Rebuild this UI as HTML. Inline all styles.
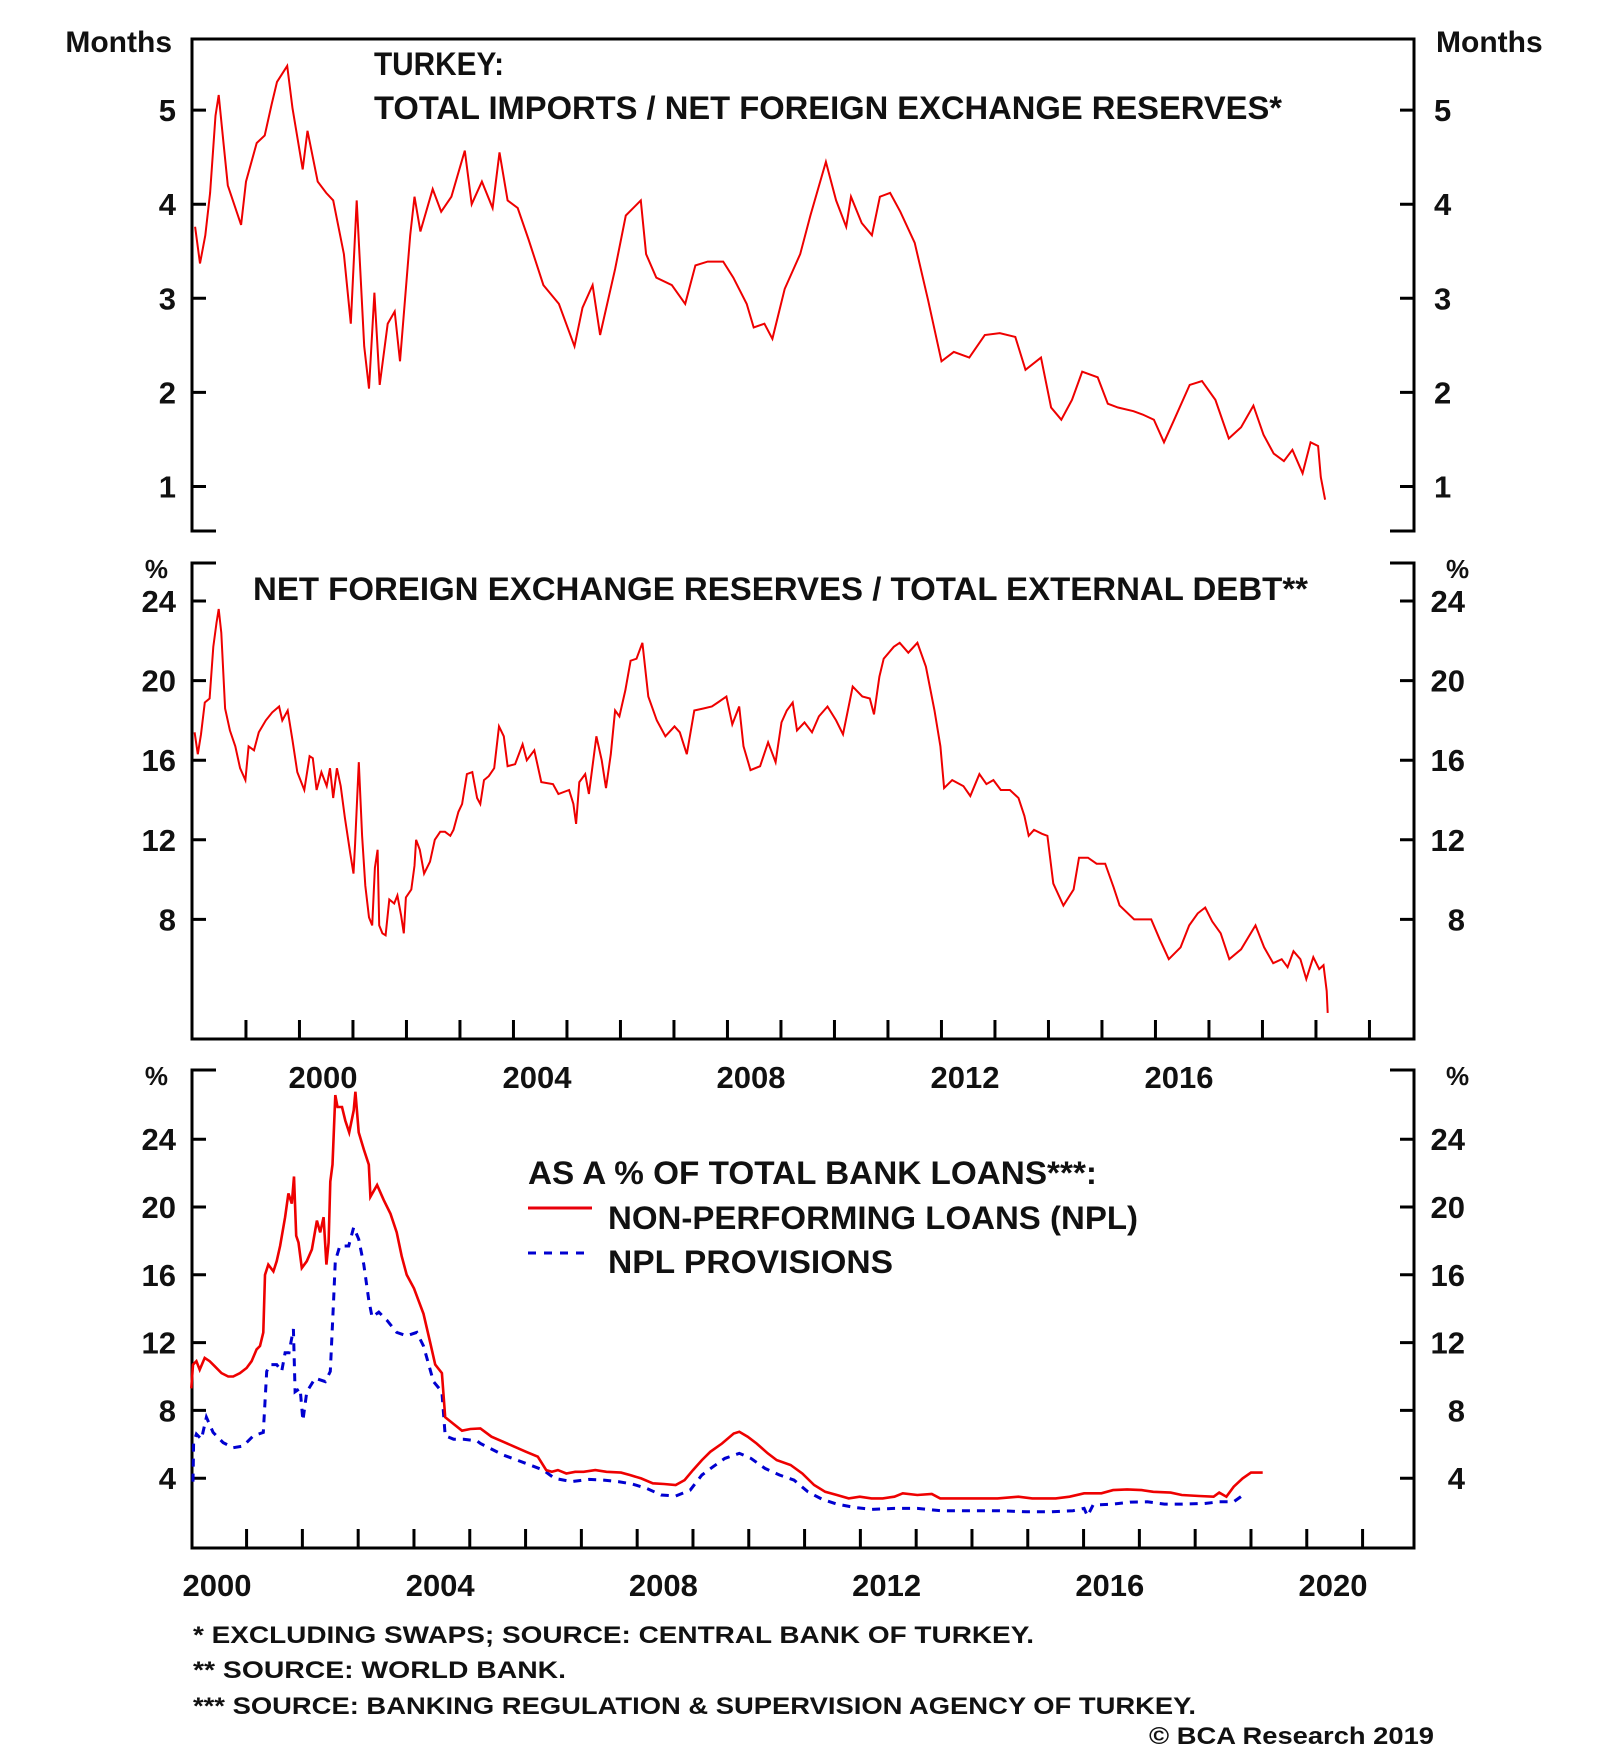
<!DOCTYPE html>
<html><head><meta charset="utf-8"><style>
html,body{margin:0;padding:0;background:#fff}
svg{display:block}
text{font-family:"Liberation Sans",sans-serif;font-weight:bold;fill:#111}
</style></head><body>
<svg id="chart" width="1600" height="1758" viewBox="0 0 1600 1758" xmlns="http://www.w3.org/2000/svg">
<g id="frames"></g>
<g id="series"></g>
<g id="labels"></g>
<text x="374" y="75" font-size="32" textLength="130" lengthAdjust="spacingAndGlyphs">TURKEY:</text>
<text x="374" y="119" font-size="32" textLength="908" lengthAdjust="spacingAndGlyphs">TOTAL IMPORTS / NET FOREIGN EXCHANGE RESERVES*</text>
<text x="253" y="600" font-size="32" textLength="1055" lengthAdjust="spacingAndGlyphs">NET FOREIGN EXCHANGE RESERVES / TOTAL EXTERNAL DEBT**</text>
<text x="528" y="1184" font-size="32" textLength="569" lengthAdjust="spacingAndGlyphs">AS A % OF TOTAL BANK LOANS***:</text>
<line x1="528" y1="1208" x2="592" y2="1208" stroke="#e8000b" stroke-width="3"/>
<text x="608" y="1229" font-size="32" textLength="530" lengthAdjust="spacingAndGlyphs">NON-PERFORMING LOANS (NPL)</text>
<line x1="528" y1="1253" x2="592" y2="1253" stroke="#0000d0" stroke-width="3" stroke-dasharray="8,8"/>
<text x="608" y="1273" font-size="32" textLength="285" lengthAdjust="spacingAndGlyphs">NPL PROVISIONS</text>
<text x="193" y="1643" font-size="24" textLength="841" lengthAdjust="spacingAndGlyphs">*   EXCLUDING SWAPS; SOURCE: CENTRAL BANK OF TURKEY.</text>
<text x="193" y="1678" font-size="24" textLength="373" lengthAdjust="spacingAndGlyphs">**  SOURCE: WORLD BANK.</text>
<text x="193" y="1714" font-size="24" textLength="1003" lengthAdjust="spacingAndGlyphs">*** SOURCE: BANKING REGULATION &amp; SUPERVISION AGENCY OF TURKEY.</text>
<text x="1149" y="1744" font-size="24" textLength="285" lengthAdjust="spacingAndGlyphs" font-weight="normal">© BCA Research 2019</text>
</svg>
<script>
// Panel 1: total imports / net FX reserves (months)
const p1Years=[1997.61,1997.70,1997.80,1997.89,1997.99,1998.05,1998.14,1998.22,1998.47,1998.56,1998.76,1998.91,1999.04,1999.14,1999.33,1999.43,1999.62,1999.71,1999.90,2000.06,2000.19,2000.39,2000.52,2000.63,2000.77,2000.86,2000.96,2001.06,2001.21,2001.34,2001.44,2001.63,2001.71,2001.82,2002.05,2002.21,2002.40,2002.65,2002.78,2002.97,2003.17,2003.30,2003.45,2003.64,2003.84,2004.12,2004.41,2004.70,2004.85,2005.04,2005.18,2005.46,2005.66,2005.94,2006.04,2006.23,2006.52,2006.77,2006.96,2007.19,2007.48,2007.67,2007.92,2008.05,2008.25,2008.40,2008.63,2008.92,2009.11,2009.40,2009.59,2009.78,2009.87,2010.07,2010.26,2010.41,2010.60,2010.79,2011.06,2011.31,2011.56,2011.79,2012.08,2012.37,2012.65,2012.94,2013.13,2013.42,2013.61,2013.80,2014.00,2014.19,2014.48,2014.67,2014.86,2015.15,2015.34,2015.53,2015.72,2015.91,2016.20,2016.43,2016.68,2016.93,2017.16,2017.39,2017.58,2017.77,2017.96,2018.12,2018.31,2018.46,2018.60,2018.65,2018.73];
const p1Values=[3.76,3.37,3.67,4.12,4.94,5.16,4.65,4.2,3.78,4.24,4.65,4.73,5.06,5.3,5.47,5.02,4.37,4.78,4.24,4.12,4.04,3.47,2.73,4.04,2.49,2.04,3.06,2.08,2.73,2.86,2.33,3.67,4.08,3.71,4.16,3.92,4.08,4.57,4.0,4.24,3.96,4.55,4.04,3.96,3.63,3.14,2.94,2.49,2.9,3.14,2.61,3.31,3.88,4.04,3.47,3.22,3.14,2.94,3.35,3.39,3.39,3.22,2.94,2.69,2.73,2.57,3.1,3.47,3.88,4.45,4.04,3.76,4.08,3.8,3.67,4.08,4.12,3.92,3.59,2.98,2.33,2.43,2.37,2.61,2.63,2.59,2.24,2.37,1.84,1.71,1.92,2.22,2.16,1.88,1.84,1.8,1.76,1.71,1.47,1.71,2.08,2.12,1.92,1.51,1.63,1.86,1.55,1.35,1.27,1.39,1.14,1.47,1.43,1.1,0.86];
const p1Ticks=[1,2,3,4,5];
// Panel 2: net FX reserves / total external debt (%)
const p2Years=[1997.60,1997.66,1997.72,1997.79,1997.88,1997.95,1998.01,1998.05,1998.10,1998.17,1998.26,1998.36,1998.45,1998.55,1998.61,1998.71,1998.80,1998.93,1999.05,1999.18,1999.24,1999.34,1999.43,1999.52,1999.65,1999.75,1999.81,1999.88,1999.97,2000.07,2000.13,2000.19,2000.26,2000.33,2000.41,2000.51,2000.57,2000.60,2000.67,2000.73,2000.79,2000.86,2000.92,2000.97,2001.02,2001.05,2001.11,2001.17,2001.24,2001.33,2001.39,2001.46,2001.51,2001.55,2001.65,2001.71,2001.74,2001.81,2001.89,2002.00,2002.09,2002.19,2002.28,2002.38,2002.44,2002.53,2002.60,2002.69,2002.79,2002.88,2002.94,2003.01,2003.10,2003.20,2003.29,2003.38,2003.45,2003.59,2003.73,2003.81,2003.95,2004.08,2004.30,2004.40,2004.60,2004.68,2004.73,2004.79,2004.90,2004.97,2005.11,2005.21,2005.29,2005.38,2005.46,2005.54,2005.65,2005.75,2005.86,2005.97,2006.08,2006.24,2006.40,2006.57,2006.67,2006.80,2006.94,2007.11,2007.27,2007.38,2007.54,2007.65,2007.78,2007.86,2007.99,2008.17,2008.32,2008.46,2008.57,2008.67,2008.78,2008.86,2009.00,2009.14,2009.27,2009.43,2009.59,2009.72,2009.90,2010.08,2010.22,2010.30,2010.40,2010.48,2010.67,2010.78,2010.94,2011.11,2011.27,2011.43,2011.54,2011.61,2011.76,2011.97,2012.10,2012.27,2012.40,2012.53,2012.67,2012.84,2013.00,2013.11,2013.19,2013.29,2013.44,2013.54,2013.65,2013.84,2014.03,2014.13,2014.30,2014.46,2014.62,2014.78,2014.89,2015.16,2015.48,2015.64,2015.81,2016.03,2016.19,2016.35,2016.49,2016.62,2016.78,2016.94,2017.16,2017.43,2017.59,2017.76,2017.92,2018.03,2018.14,2018.27,2018.38,2018.51,2018.62,2018.70,2018.76,2018.78];
const p2Values=[17.4,16.3,17.3,18.9,19.1,21.7,22.9,23.6,22.4,18.6,17.5,16.7,15.6,15.0,16.7,16.5,17.4,18.0,18.4,18.7,18.0,18.5,17.0,15.4,14.5,16.2,16.1,14.5,15.4,14.7,15.6,14.1,15.6,14.7,13.1,11.3,10.3,11.8,15.9,12.2,9.7,8.1,7.7,10.6,11.5,7.7,7.3,7.2,9.0,8.8,9.2,8.2,7.3,9.1,9.5,10.7,12.0,11.5,10.3,10.9,12.0,12.4,12.4,12.2,12.5,13.4,13.8,15.3,15.4,14.1,13.8,15.0,15.2,15.6,17.7,17.2,15.7,15.8,16.8,16.0,16.5,14.9,14.8,14.3,14.5,13.8,12.8,14.9,15.3,14.3,17.2,16.0,14.6,16.3,18.5,18.2,19.5,21.0,21.1,21.9,19.2,18.0,17.2,17.7,17.4,16.3,18.5,18.6,18.7,18.9,19.2,17.8,18.7,16.7,15.5,15.7,16.9,15.9,17.9,18.5,18.9,17.5,17.9,17.4,18.2,18.7,18.0,17.3,19.7,19.2,19.1,18.3,20.2,21.1,21.7,21.9,21.4,21.9,20.7,18.5,16.7,14.6,15.0,14.7,14.2,15.3,14.8,15.0,14.5,14.5,14.1,13.2,12.2,12.5,12.3,12.2,9.8,8.7,9.5,11.1,11.1,10.8,10.8,9.6,8.7,8.0,8.0,7.0,6.0,6.6,7.7,8.3,8.6,7.9,7.3,6.0,6.5,7.7,6.6,5.8,6.0,5.6,6.4,6.0,5.0,6.1,5.5,5.7,4.4,3.3];
const p2Ticks=[8,12,16,20,24];
const p2YearLabels=["2000","2004","2008","2012","2016"];
// Panel 3: NPL and provisions (% of total bank loans)
const nplYears=[1999.54,1999.57,1999.63,1999.69,1999.78,1999.87,1999.96,2000.08,2000.20,2000.29,2000.41,2000.53,2000.62,2000.71,2000.77,2000.83,2000.86,2000.92,2001.01,2001.07,2001.13,2001.22,2001.28,2001.34,2001.38,2001.42,2001.46,2001.52,2001.61,2001.70,2001.79,2001.85,2001.91,2001.96,2002.00,2002.03,2002.07,2002.12,2002.16,2002.24,2002.30,2002.37,2002.45,2002.48,2002.54,2002.63,2002.72,2002.75,2002.87,2002.99,2003.11,2003.22,2003.31,2003.40,2003.53,2003.61,2003.70,2003.82,2003.91,2004.03,2004.09,2004.24,2004.39,2004.54,2004.72,2004.92,2005.13,2005.33,2005.54,2005.75,2005.90,2006.00,2006.11,2006.26,2006.42,2006.57,2006.78,2006.98,2007.24,2007.40,2007.60,2007.81,2008.01,2008.22,2008.38,2008.53,2008.69,2008.84,2009.05,2009.26,2009.36,2009.51,2009.67,2009.87,2010.03,2010.28,2010.49,2010.70,2010.90,2011.11,2011.32,2011.52,2011.73,2011.93,2012.14,2012.29,2012.55,2012.81,2012.96,2013.48,2013.99,2014.36,2014.61,2015.03,2015.28,2015.54,2015.85,2016.06,2016.31,2016.57,2016.78,2017.09,2017.29,2017.60,2017.86,2017.96,2018.09,2018.22,2018.38,2018.53,2018.74];
const nplValues=[9.3,10.7,10.9,10.4,11.1,10.9,10.6,10.2,10.0,10.0,10.2,10.5,10.9,11.6,11.8,12.6,16.0,16.6,16.2,16.8,17.7,19.4,20.8,20.2,21.8,18.3,17.9,16.4,16.8,17.5,19.2,18.5,19.4,16.6,17.9,21.5,22.5,26.6,25.9,25.9,25.1,24.4,25.7,26.8,24.4,23.4,22.5,20.6,21.3,20.4,19.6,18.5,17.1,16.0,15.2,14.5,13.7,12.0,10.7,10.2,7.6,7.2,6.8,6.9,6.94,6.45,6.15,5.86,5.56,5.27,4.48,4.38,4.48,4.28,4.38,4.38,4.48,4.38,4.33,4.19,3.99,3.70,3.66,3.60,3.89,4.48,5.07,5.56,6.05,6.64,6.74,6.45,6.05,5.47,5.07,4.78,4.28,3.60,3.20,3.01,2.81,2.91,2.81,2.81,2.91,3.11,3.01,3.07,2.81,2.81,2.81,2.91,2.81,2.81,2.91,3.11,3.11,3.30,3.34,3.30,3.20,3.15,3.01,2.95,2.91,3.15,2.91,3.50,3.99,4.33,4.33];
const provYears=[1999.57,1999.58,1999.63,1999.72,1999.81,1999.93,2000.11,2000.29,2000.47,2000.65,2000.83,2000.89,2000.95,2001.07,2001.16,2001.22,2001.29,2001.37,2001.40,2001.49,2001.54,2001.61,2001.76,2001.94,2002.03,2002.09,2002.12,2002.20,2002.36,2002.45,2002.54,2002.63,2002.72,2002.78,2002.90,2003.05,2003.22,2003.40,2003.58,2003.70,2003.88,2004.03,2004.09,2004.24,2004.42,2004.66,2004.72,2005.13,2005.54,2005.85,2006.05,2006.36,2006.67,2006.93,2007.19,2007.44,2007.70,2007.96,2008.22,2008.48,2008.69,2008.89,2009.10,2009.36,2009.57,2009.82,2010.08,2010.34,2010.59,2010.85,2011.11,2011.42,2011.73,2012.14,2012.55,2012.96,2013.48,2013.99,2014.51,2014.93,2015.34,2015.54,2015.60,2015.70,2016.06,2016.37,2016.67,2016.98,2017.29,2017.70,2017.96,2018.22,2018.45];
const provValues=[3.8,6.1,6.6,6.3,7.6,6.7,6.1,5.8,5.9,6.5,6.7,10.3,10.7,10.7,10.3,11.4,11.4,12.8,9.1,9.3,7.4,9.1,9.9,9.7,10.3,14.5,16.8,17.7,17.7,18.8,18.1,16.6,14.5,13.5,13.8,13.3,12.6,12.4,12.6,11.8,9.7,9.1,6.5,6.3,6.3,6.2,6.05,5.37,4.87,4.48,3.99,3.80,3.93,3.89,3.80,3.66,3.40,3.01,2.95,3.30,4.19,4.68,5.17,5.47,5.17,4.58,4.19,3.89,3.20,2.75,2.47,2.28,2.16,2.22,2.22,2.08,2.08,2.08,2.02,2.02,2.08,2.22,1.77,2.42,2.47,2.59,2.61,2.47,2.47,2.51,2.61,2.61,3.15];
const p3Ticks=[4,8,12,16,20,24];
const p3YearLabels=["2000","2004","2008","2012","2016","2020"];

const NS="http://www.w3.org/2000/svg";
const L=192,R=1414;
const P1={top:39,bot:531},P2={top:563,bot:1039},P3={top:1070,bot:1548};
const x12=yr=>323+53.5*(yr-2000);
const x3=yr=>217+55.8*(yr-2000);
const y1=v=>580.6-94.1*v;
const y2=v=>601+(24-v)*19.9;
const y3=v=>1546-16.95*v;
function mk(tag,attrs,parent){const e=document.createElementNS(NS,tag);for(const k in attrs)e.setAttribute(k,attrs[k]);parent.appendChild(e);return e;}
const F=document.getElementById('frames'),S=document.getElementById('series'),LB=document.getElementById('labels');
const ax={stroke:'#000','stroke-width':3,fill:'none'};
function path(d,name){const p=mk('path',Object.assign({d:d},ax),F);

}
// panel frames
path(`M${L+24},${P1.bot}H${L}V${P1.top}H${R}V${P1.bot}H${R-24}`,'panel1-frame');
path(`M${L+24},${P2.top}H${L}V${P2.bot}H${R}V${P2.top}H${R-24}`,'panel2-frame');
path(`M${L+24},${P3.top}H${L}V${P3.bot}H${R}V${P3.top}H${R-24}`,'panel3-frame');
function txt(x,y,s,anchor,size,name){const t=mk('text',{x:x,y:y,'text-anchor':anchor,'font-size':size},LB);t.textContent=s;

return t;}
function yTicks(ticks,yf,panel,rightAnchor,rightX){
 ticks.forEach(v=>{const y=yf(v);
  path(`M${L},${y}H${L+14}M${R},${y}H${R-14}`,panel+'-ytick');
  txt(176,y+11,String(v),'end',31,panel+'-left-tick-label');
  txt(rightX,y+11,String(v),rightAnchor,31,panel+'-right-tick-label');});
}
yTicks(p1Ticks,y1,'panel1','start',1434);
yTicks(p2Ticks,y2,'panel2','end',1465);
yTicks(p3Ticks,y3,'panel3','end',1465);
txt(172,52,'Months','end',30,'panel1-left-unit');
txt(1436,52,'Months','start',30,'panel1-right-unit');
txt(168,578,'%','end',26,'panel2-left-unit');
txt(1446,578,'%','start',26,'panel2-right-unit');
txt(168,1085,'%','end',26,'panel3-left-unit');
txt(1446,1085,'%','start',26,'panel3-right-unit');
// x ticks
for(let k=0;k<22;k++){const x=x12(1998.56+k);path(`M${x},${P2.bot}V${P2.bot-19}`,'panel2-xtick');}
for(let k=0;k<21;k++){const x=x3(2000.53+k);path(`M${x},${P3.bot}V${P3.bot-19}`,'panel3-xtick');}
p2YearLabels.forEach(s=>txt(x12(+s),1088,s,'middle',31,'panel2-year-label'));
p3YearLabels.forEach(s=>txt(x3(+s),1596,s,'middle',31,'panel3-year-label'));
function line(xs,vs,xf,yf,color,w,dash,name){
 const d=xs.map((t,i)=>(i?'L':'M')+xf(t).toFixed(1)+','+yf(vs[i]).toFixed(1)).join('');
 const p=mk('path',{d:d,stroke:color,'stroke-width':w,fill:'none','stroke-linejoin':'miter'},S);
 if(dash)p.setAttribute('stroke-dasharray',dash);
 
 
}
line(p1Years,p1Values,x12,y1,'#ee0000',2,null,'imports-reserves-line');
line(p2Years,p2Values,x12,y2,'#ee0000',2,null,'reserves-debt-line');
line(provYears,provValues,x3,y3,'#0000d0',3,'8,7','npl-provisions-line');
line(nplYears,nplValues,x3,y3,'#ee0000',2.6,null,'npl-line');
</script>
</body></html>
